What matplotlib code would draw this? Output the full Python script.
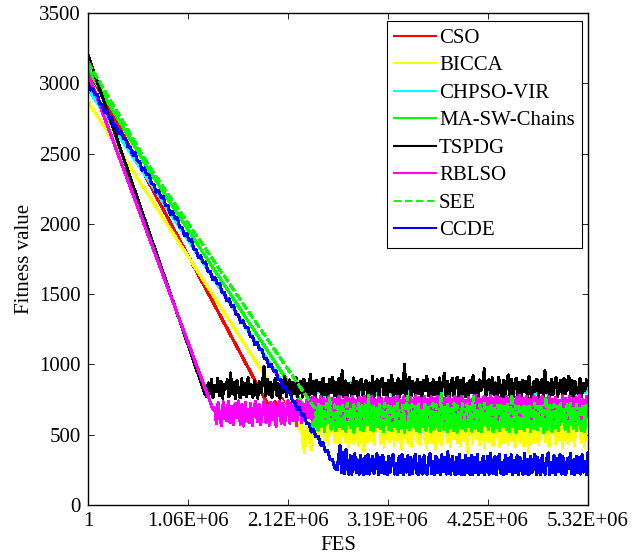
import numpy as np
import matplotlib
matplotlib.use("Agg")
import matplotlib.pyplot as plt

plt.rcParams['font.family'] = ['Liberation Serif', 'DejaVu Serif']

XMAX = 5.32e6
xtick_labels = ["1", "1.06E+06", "2.12E+06", "3.19E+06", "4.25E+06", "5.32E+06"]
ytick_values = [0, 500, 1000, 1500, 2000, 2500, 3000, 3500]

# descent anchors: (FES, fitness)
cso_desc_x = [1, 1.91e6]
cso_desc_y = [3100, 720]
bicca_desc_x = [1, 2.25e6]
bicca_desc_y = [2870, 540]
chpso_desc_x = [1, 2.12e6]
chpso_desc_y = [2960, 820]
masw_desc_x = [1, 0.66e6, 2.36e6]
masw_desc_y = [3100, 2370, 640]
tspdg_desc_x = [1, 1.245e6]
tspdg_desc_y = [3200, 790]
rblso_desc_x = [1, 1.33e6]
rblso_desc_y = [3070, 680]
see_desc_x = [1, 0.66e6, 2.40e6]
see_desc_y = [3150, 2400, 700]
ccde_desc_end = 2.65e6
ccde_desc_y = [3005, 2952, 2966, 2917, 2922, 2856, 2848, 2791, 2807, 2759,
               2761, 2698, 2696, 2640, 2654, 2610, 2608, 2549, 2544, 2489,
               2507, 2447, 2443, 2380, 2398, 2348, 2349, 2286, 2280, 2225,
               2240, 2190, 2196, 2128, 2129, 2068, 2086, 2040, 2044, 1978,
               1976, 1919, 1933, 1881, 1887, 1820, 1816, 1759, 1773, 1723,
               1729, 1663, 1663, 1606, 1621, 1575, 1577, 1514, 1512, 1453,
               1468, 1415, 1419, 1354, 1352, 1295, 1310, 1263, 1266, 1201,
               1199, 1142, 1157, 1104, 1108, 1044, 1040, 983, 999, 952,
               955, 890, 890, 832, 847, 799, 803, 739, 733, 679,
               691, 639, 646, 578, 582, 519, 538, 486, 489, 426,
               445, 379, 388, 325, 326, 266, 250]

# plateau values (fitness), sampled evenly from end of descent to the last FES
cso_plateau = [708, 662, 735, 688, 642, 755, 700, 672, 724, 656, 692, 745, 668, 708, 630, 718, 686, 762, 664, 702,
               695, 740, 652, 714, 680, 728, 644, 700, 772, 668, 710, 686, 734, 656, 698, 722, 674, 748, 640, 704,
               690, 730, 662, 716, 694, 758, 650, 706, 682, 742, 668, 712, 626, 724, 696, 750, 672, 702, 660, 734,
               690, 720, 646, 708, 684, 765, 678, 714, 654, 732, 696, 744, 664, 706, 682, 726, 648, 700, 718, 688,
               710, 658, 736, 692, 712, 640, 746, 684, 720, 666, 704, 752, 676, 698, 728, 662, 714, 690, 738, 672,
               700, 726, 654, 710, 686, 760, 668, 716, 692, 734, 650, 706, 742, 680, 718, 664, 728, 696, 712, 684,
               706, 738, 660, 716, 690, 748, 672, 702, 728, 686]
bicca_plateau = [590, 440, 375, 560, 605, 455, 395, 585, 610, 470, 598, 425, 575, 612, 460, 592, 430, 600, 520, 612,
                 448, 588, 605, 415, 570, 610, 452, 596, 410, 582, 608, 440, 615, 500, 426, 600, 585, 380, 596, 450,
                 610, 462, 590, 428, 604, 545, 612, 438, 594, 418, 608, 475, 450, 610, 580, 422, 602, 456, 614, 405,
                 596, 478, 612, 440, 600, 424, 570, 610, 455, 598, 432, 588, 614, 468, 412, 604, 580, 445, 612, 398,
                 602, 452, 610, 430, 590, 608, 448, 582, 416, 606, 470, 614, 442, 596, 420, 610, 462, 598, 372, 585,
                 612, 436, 600, 480, 615, 428, 590, 606, 410, 578, 612, 450, 600, 425, 610, 486, 598, 418, 592, 444,
                 610, 570, 432, 612, 460, 596, 415, 588, 614, 442, 604, 420, 608, 535, 378, 596, 612, 445, 600, 472,
                 430, 604, 580, 614, 450, 596, 418, 610, 512, 600, 438, 612, 466, 588, 408, 606, 560, 440, 612, 458,
                 598, 420, 608, 530, 614, 448, 590, 412, 610, 560]
chpso_plateau = [830, 795, 858, 778, 836, 872, 802, 842, 785, 860, 818, 880, 798, 832, 855, 776, 845, 812, 868, 804,
                 838, 790, 865, 822, 845, 780, 830, 876, 808, 842, 798, 856, 824, 870, 792, 834, 850, 786, 820, 874,
                 805, 844, 828, 862, 782, 836, 812, 878, 800, 848, 825, 866, 790, 833, 858, 808, 845, 778, 828, 870,
                 815, 840, 796, 862, 830, 875, 802, 847, 822, 856, 788, 838, 868, 812, 842, 800, 860, 827, 872, 819,
                 834, 794, 852, 820, 866, 786, 841, 812, 878, 805, 848, 824, 859, 790, 836, 870, 810, 843, 798, 864,
                 826, 876, 804, 839, 816, 856, 782, 832, 864, 809, 846, 792, 861, 828, 874, 802, 840, 820, 854, 796,
                 836, 868, 811, 848, 788, 858, 825, 842, 800, 862]
masw_plateau = [680, 548, 700, 575, 530, 705, 560, 668, 522, 690, 585, 702, 540, 710, 598, 528, 688, 556, 706, 545,
                672, 524, 698, 580, 552, 708, 518, 660, 565, 700, 538, 684, 530, 695, 570, 712, 535, 676, 526, 690,
                560, 704, 542, 680, 520, 650, 700, 536, 692, 528, 710, 558, 674, 522, 698, 548, 686, 518, 706, 575,
                534, 690, 562, 712, 530, 670, 520, 702, 556, 684, 532, 708, 590, 522, 694, 544, 705, 566, 528, 688,
                676, 538, 710, 520, 680, 552, 700, 530, 690, 515, 662, 708, 546, 684, 526, 702, 560, 672, 524, 696,
                548, 712, 532, 666, 522, 698, 572, 688, 540, 706, 580, 520, 692, 550, 710, 528, 678, 564, 700, 536,
                690, 524, 708, 556, 672, 518, 702, 544, 686, 600, 530, 710, 558, 682, 522, 696, 548, 712, 534, 670,
                568, 694, 516, 686, 540, 706, 580, 526, 690, 552, 702, 530, 676, 596, 714, 538, 688, 520, 672, 704,
                546, 684, 528, 710, 572, 530, 698, 522, 676, 690]
tspdg_plateau = [772, 868, 790, 895, 765, 852, 810, 902, 778, 880, 760, 858, 825, 890, 770, 940, 795, 872, 758, 884,
                 806, 762, 898, 783, 866, 770, 905, 792, 855, 768, 888, 815, 760, 876, 798, 862, 985, 775, 892, 788,
                 870, 764, 848, 900, 780, 862, 758, 885, 802, 915, 772, 858, 890, 766, 874, 795, 908, 770, 850, 882,
                 768, 896, 805, 864, 757, 930, 790, 878, 762, 886, 815, 868, 775, 902, 784, 860, 760, 893, 798, 910,
                 776, 872, 765, 898, 788, 955, 770, 882, 760, 866, 812, 774, 904, 792, 878, 763, 870, 896, 780, 858,
                 884, 758, 868, 792, 912, 773, 850, 890, 766, 876, 902, 784, 864, 756, 888, 805, 920, 770, 862, 794,
                 898, 768, 876, 800, 1000, 778, 860, 906, 765, 882, 854, 772, 896, 790, 870, 760, 885, 812, 915, 776,
                 864, 762, 890, 786, 872, 758, 904, 808, 866, 938, 780, 880, 762, 858, 900, 774, 868, 910, 766, 886,
                 790, 898, 770, 862, 757, 884, 800, 918, 776, 872, 764, 890, 815, 858, 968, 772, 876, 894, 762, 904,
                 786, 868, 765, 908, 820, 774, 886, 760, 870, 925, 782, 894, 768, 856, 902, 778, 874, 758, 888, 806,
                 880, 770, 912, 798, 762, 876, 810, 896, 766, 864, 890, 776, 955, 800, 872, 760, 894, 784, 866, 906,
                 774, 858, 888, 768, 900, 792, 870, 915, 778, 884, 760, 876, 805, 792, 902, 770, 866, 812, 890, 850]
rblso_plateau = [690, 580, 728, 612, 565, 735, 640, 598, 738, 585, 702, 570, 725, 620, 740, 575, 712, 562, 730, 605,
                 588, 720, 566, 690, 738, 592, 715, 572, 660, 740, 590, 708, 568, 732, 610, 720, 560, 695, 736, 580,
                 722, 575, 650, 740, 582, 712, 598, 728, 565, 700, 738, 586, 718, 600, 745, 620, 752, 608, 765, 632,
                 748, 612, 770, 640, 758, 618, 735, 772, 625, 760, 605, 750, 668, 775, 615, 742, 635, 768, 610, 755,
                 640, 772, 618, 745, 628, 766, 606, 740, 775, 642, 760, 615, 770, 648, 752, 608, 768, 632, 755, 620,
                 745, 768, 625, 758, 602, 762, 650, 775, 615, 742, 638, 770, 610, 756, 660, 768, 620, 748, 778, 630,
                 762, 608, 738, 772, 640, 752, 604, 770, 646, 758, 622, 775, 640, 746, 600, 760, 655, 772, 612, 750,
                 632, 770, 606, 758, 668, 774, 620, 744, 598, 766, 648, 752, 614, 778, 636, 760, 610, 740, 772, 624,
                 756, 640, 776, 618, 742, 770, 604, 762, 634, 748, 612, 774, 650, 760, 626, 752, 600, 768, 642, 780,
                 620, 758, 606, 772, 650, 748, 616, 776, 640, 762, 602, 744, 770, 628, 758, 612, 774, 646, 750, 618,
                 768, 636, 746, 604, 776, 652, 760, 614, 772, 640, 754, 600, 766, 630, 778, 618, 748, 656, 770, 632]
see_plateau = [690, 585, 715, 600, 705, 565, 680, 720, 590, 760, 640, 572, 712, 598, 700, 560, 695, 718, 588, 670,
               722, 575, 698, 602, 715, 562, 665, 720, 594, 708, 570, 712, 615, 780, 580, 690, 716, 558, 702, 600,
               718, 578, 684, 722, 605, 706, 566, 714, 620, 700, 574, 720, 632, 560, 710, 596, 692, 775, 584, 680,
               716, 568, 704, 610, 722, 586, 690, 560, 718, 624, 708, 578, 696, 720, 600, 712, 566, 672, 790, 592,
               702, 612, 718, 558, 690, 596, 722, 582, 706, 640, 572, 720, 660, 564, 712, 608, 698, 588, 770, 630,
               690, 570, 714, 604, 700, 722, 580, 696, 620, 718, 590, 686, 562, 710, 642, 720, 584, 704, 602, 716,
               566, 692, 785, 608, 706, 576, 718, 655, 594, 712, 584, 698, 560, 710, 618, 680, 722, 596, 704, 572,
               720, 630, 690, 765, 588, 708, 564, 686, 716, 602, 700, 578, 720, 614, 694, 562, 712, 640, 722, 586,
               688, 596, 714, 570, 702, 632, 720, 584, 708, 650]
ccde_plateau = [340, 420, 230, 375, 222, 395, 262, 220, 350, 218, 330, 365, 228, 320, 220, 352, 242, 216, 345, 224,
                360, 220, 285, 348, 224, 310, 366, 218, 340, 232, 355, 222, 302, 216, 348, 234, 325, 360, 220, 292,
                216, 342, 230, 358, 218, 320, 234, 350, 216, 335, 224, 300, 362, 226, 218, 345, 240, 220, 352, 230,
                216, 330, 368, 224, 310, 216, 348, 232, 320, 218, 356, 236, 338, 220, 378, 228, 220, 345, 272, 216,
                338, 224, 360, 218, 316, 214, 350, 234, 330, 220, 355, 216, 340, 230, 362, 218, 305, 228, 348, 216,
                282, 345, 220, 368, 232, 222, 346, 216, 325, 360, 224, 300, 216, 352, 224, 332, 236, 358, 218, 316,
                228, 350, 216, 338, 244, 220, 366, 224, 322, 214, 348, 230, 310, 362, 218, 336, 234, 216, 355, 246,
                220, 330, 370, 218, 302, 230, 352, 216, 328, 240, 360, 220, 342, 226, 214, 332, 262, 365, 222, 320,
                216, 346, 232, 340, 220, 358, 234, 308, 218, 372]

ccde_desc_x = np.linspace(1, ccde_desc_end, len(ccde_desc_y))

series = [
    ("CSO", cso_desc_x, cso_desc_y, cso_plateau, "#ff0000", "-"),
    ("BICCA", bicca_desc_x, bicca_desc_y, bicca_plateau, "#ffff00", "-"),
    ("CHPSO-VIR", chpso_desc_x, chpso_desc_y, chpso_plateau, "#00ffff", "-"),
    ("MA-SW-Chains", masw_desc_x, masw_desc_y, masw_plateau, "#00ff00", "-"),
    ("TSPDG", tspdg_desc_x, tspdg_desc_y, tspdg_plateau, "#000000", "-"),
    ("RBLSO", rblso_desc_x, rblso_desc_y, rblso_plateau, "#ff00ff", "-"),
    ("SEE", see_desc_x, see_desc_y, see_plateau, "#00ff00", "--"),
    ("CCDE", ccde_desc_x, ccde_desc_y, ccde_plateau, "#0000ff", "-"),
]

fig = plt.figure(figsize=(6.32, 5.57), dpi=100)
ax = fig.add_axes([88 / 632, 52 / 557, 500 / 632, 492 / 557])

for name, dx, dy, plat, color, ls in series:
    px = np.linspace(dx[-1], XMAX, len(plat) + 1)[1:]
    xs = np.concatenate([dx, px])
    ys = np.concatenate([dy, plat])
    kw = dict(dashes=(3.5, 1.8)) if ls == "--" else {}
    ax.plot(xs, ys, color=color, linestyle=ls, linewidth=1.5, label=name,
            antialiased=False, **kw)

ax.set_xlim(1, XMAX)
ax.set_ylim(0, 3500)
ax.set_xticks(np.linspace(1, XMAX, 6))
ax.set_xticklabels(xtick_labels)
ax.set_yticks(ytick_values)
ax.tick_params(direction="in", length=4, width=0.6, top=True, right=True,
               labelsize=15, pad=5, colors="black")
for sp in ax.spines.values():
    sp.set_linewidth(1.0)
ax.set_xlabel("FES", fontsize=15, labelpad=4)
ax.set_ylabel("Fitness value", fontsize=15, labelpad=4)

leg = ax.legend(loc="upper right", bbox_to_anchor=(1 - 6 / 500, 1 - 8 / 492),
                borderaxespad=0, fontsize=15, frameon=True, fancybox=False,
                edgecolor="black", framealpha=1, handlelength=2.0, handletextpad=0.15,
                labelspacing=0.38, borderpad=0.35)
leg.get_frame().set_linewidth(0.8)

fig.savefig("out.png", dpi=100)
